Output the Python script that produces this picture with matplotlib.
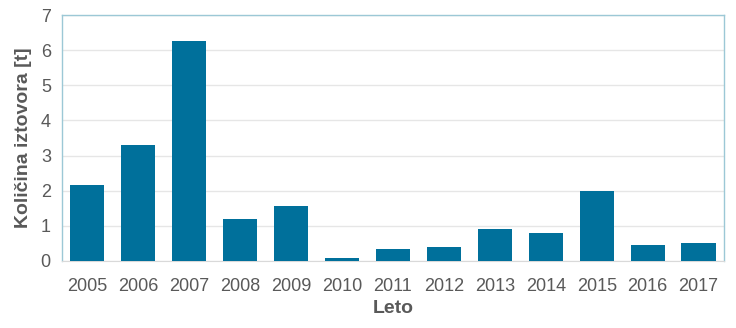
import matplotlib.pyplot as plt
import numpy as np

plt.rcParams['font.family'] = ['Liberation Sans', 'DejaVu Sans']

years = ['2005', '2006', '2007', '2008', '2009', '2010', '2011',
         '2012', '2013', '2014', '2015', '2016', '2017']
catch_t = [2.17, 3.30, 6.25, 1.19, 1.57, 0.09, 0.34,
           0.40, 0.92, 0.80, 2.00, 0.46, 0.51]

BAR_COLOR = '#00709b'
TEXT_COLOR = '#595959'

fig = plt.figure(figsize=(7.36, 3.28), dpi=100)
ax = fig.add_axes([0.0842, 0.2043, 0.8995, 0.7497])

x = np.arange(len(years))
ax.bar(x, catch_t, width=0.67, color=BAR_COLOR, zorder=3)

ax.set_xlim(-0.5, len(years) - 0.5)
ax.set_ylim(0, 7)
ax.set_yticks(range(0, 8))
ax.set_xticks(x)
ax.set_xticklabels(years)
ax.yaxis.grid(True, color='#e6e6e6', linewidth=1, zorder=0)
ax.tick_params(axis='both', length=0, labelsize=13, colors=TEXT_COLOR)
ax.tick_params(axis='x', pad=12)
ax.tick_params(axis='y', pad=8)

for side in ('top', 'left', 'right'):
    ax.spines[side].set_color('#9cc8d6')
    ax.spines[side].set_linewidth(1)
ax.spines['bottom'].set_color('#d9d9d9')

ax.set_ylabel('Količina iztovora [t]', fontsize=14, fontweight='bold',
              color=TEXT_COLOR, labelpad=6)
ax.set_xlabel('Leto', fontsize=14, fontweight='bold', color=TEXT_COLOR,
              labelpad=4)

fig.savefig('out.png', dpi=100)
